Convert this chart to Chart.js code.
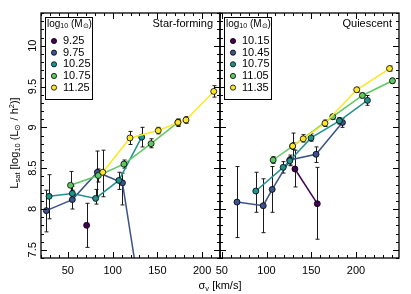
<!DOCTYPE html>
<html>
<head>
<meta charset="utf-8">
<script src="https://cdn.jsdelivr.net/npm/chart.js@4.4.1/dist/chart.umd.min.js"></script>
<style>
  html, body { margin: 0; padding: 0; background: #fff; }
  #wrap { position: relative; width: 411px; height: 294px; }
  canvas { position: absolute; left: 0; top: 0; }
</style>
</head>
<body>
<div id="wrap">
  <canvas id="sf" width="411" height="294"></canvas>
  <canvas id="qu" width="411" height="294"></canvas>
</div>
<script>
const FONT = '"Liberation Sans", Arial, sans-serif';
const viridis = ['#440154', '#3b528b', '#21918c', '#5ec962', '#fde725'];

const yTicks = [7.5, 8, 8.5, 9, 9.5, 10];
const xTicks = [50, 100, 150, 200];
const yRange = [7.4, 10.4];
const sfRange = [20, 220];
const quRange = [48, 248];

// Star-forming: log10 stellar mass bins
const sfMass = ['9.25', '9.75', '10.25', '10.75', '11.25'];
const sfSigma = [
  [71],
  [26, 55, 83, 111, 140],
  [29, 55, 81, 107, 132.5],
  [53, 84, 112.6, 143, 173],
  [89, 119.4, 151, 173, 182, 213]
];
const sfL = [
  [7.80],
  [7.98, 8.115, 8.45, 8.32, 6.3],
  [8.155, 8.19, 8.13, 8.35, 8.88],
  [8.29, 8.41, 8.55, 8.80, 9.06],
  [8.45, 8.87, 8.96, 9.06, 9.09, 9.44]
];
const sfLo = [
  [7.53],
  [7.72, 8.00, 8.15, 8.05, 6.3],
  [7.88, 8.10, 8.06, 8.24, 8.76],
  [8.12, 8.33, 8.50, 8.75, 9.02],
  [8.15, 8.79, 8.92, 9.01, 9.05, 9.37]
];
const sfHi = [
  [8.07],
  [8.23, 8.23, 8.71, 8.44, 6.3],
  [8.42, 8.28, 8.24, 8.45, 9.00],
  [8.46, 8.49, 8.60, 8.86, 9.10],
  [8.72, 8.95, 9.00, 9.10, 9.13, 9.51]
];

// Quiescent
const quMass = ['10.15', '10.45', '10.75', '11.05', '11.35'];
const quSigma = [
  [131.7, 156.7],
  [67, 96.3, 106.3, 126, 155.3, 184.8],
  [88, 118.6, 126, 149.7, 181.4, 212.7],
  [107.4, 129.2, 174, 207.1, 240.7],
  [129.2, 141, 165.3, 200.8, 237.4]
];
const quL = [
  [8.49, 8.065],
  [8.085, 8.04, 8.24, 8.60, 8.67, 9.06],
  [8.22, 8.51, 8.59, 8.87, 9.08, 9.33],
  [8.60, 8.77, 9.13, 9.39, 9.57],
  [8.77, 8.86, 9.05, 9.46, 9.72]
];
const quLo = [
  [8.27, 7.63],
  [7.65, 7.71, 7.96, 8.53, 8.57, 9.00],
  [7.96, 8.44, 8.54, 8.83, 9.04, 9.27],
  [8.56, 8.73, 9.10, 9.36, 9.54],
  [8.62, 8.82, 9.01, 9.43, 9.69]
];
const quHi = [
  [8.72, 8.51],
  [8.52, 8.37, 8.52, 8.66, 8.76, 9.11],
  [8.45, 8.58, 8.64, 8.92, 9.12, 9.39],
  [8.64, 8.81, 9.16, 9.42, 9.60],
  [8.93, 8.91, 9.09, 9.49, 9.75]
];

function richText(ctx, parts, x, y, align) {
  let w = 0;
  parts.forEach(p => { ctx.font = p[1] + 'px ' + FONT; w += ctx.measureText(p[0]).width; });
  let cx = align === 'center' ? x - w / 2 : (align === 'right' ? x - w : x);
  ctx.textAlign = 'left';
  ctx.textBaseline = 'middle';
  parts.forEach(p => {
    ctx.font = p[1] + 'px ' + FONT;
    ctx.fillText(p[0], cx, y + p[2]);
    cx += ctx.measureText(p[0]).width;
  });
}

function makeSets(masses, sig, L, lo, hi) {
  return masses.map((m, i) => ({
    label: m,
    data: sig[i].map((x, j) => ({ x: x, y: L[i][j], lo: lo[i][j], hi: hi[i][j] })),
    showLine: true,
    borderColor: viridis[i],
    backgroundColor: viridis[i],
    borderWidth: 1.5,
    pointRadius: 3,
    pointHoverRadius: 3,
    pointBorderColor: '#000',
    pointBorderWidth: 0.8,
    order: masses.length - 1 - i
  }));
}

const panelPlugin = {
  id: 'panel',
  beforeDatasetsDraw(chart) {
    // error bars
    const ctx = chart.ctx, a = chart.chartArea;
    const xs = chart.scales.x, ys = chart.scales.y;
    ctx.save();
    ctx.beginPath();
    ctx.rect(a.left, a.top, a.right - a.left, a.bottom - a.top);
    ctx.clip();
    ctx.strokeStyle = '#1a1a1a';
    ctx.lineWidth = 1;
    chart.data.datasets.forEach(ds => {
      ds.data.forEach(p => {
        if (p.hi - p.lo < 0.001) return;
        const px = Math.round(xs.getPixelForValue(p.x)) + 0.5;
        const y1 = ys.getPixelForValue(p.lo), y2 = ys.getPixelForValue(p.hi);
        ctx.beginPath();
        ctx.moveTo(px, y1); ctx.lineTo(px, y2);
        ctx.moveTo(px - 2, y1); ctx.lineTo(px + 2, y1);
        ctx.moveTo(px - 2, y2); ctx.lineTo(px + 2, y2);
        ctx.stroke();
      });
    });
    ctx.restore();
  },
  afterDraw(chart, args, o) {
    const ctx = chart.ctx, a = chart.chartArea;
    const xs = chart.scales.x, ys = chart.scales.y;
    ctx.save();
    ctx.strokeStyle = '#000';
    ctx.fillStyle = '#000';
    // minor / major ticks on all four sides
    ctx.lineWidth = 1;
    ctx.beginPath();
    for (let v = Math.ceil(xs.min / 10) * 10; v <= xs.max; v += 10) {
      const px = Math.round(xs.getPixelForValue(v)) + 0.5;
      const len = v % 50 === 0 ? 6 : 3;
      ctx.moveTo(px, a.bottom); ctx.lineTo(px, a.bottom - len);
      ctx.moveTo(px, a.top); ctx.lineTo(px, a.top + len);
    }
    for (let k = Math.ceil(ys.min * 10); k <= ys.max * 10; k++) {
      const py = Math.round(ys.getPixelForValue(k / 10)) + 0.5;
      const len = k % 5 === 0 ? 6 : 3;
      ctx.moveTo(a.left, py); ctx.lineTo(a.left + len, py);
      ctx.moveTo(a.right, py); ctx.lineTo(a.right - len, py);
    }
    ctx.stroke();
    // frame
    ctx.lineWidth = 1.3;
    ctx.strokeRect(a.left, a.top, a.right - a.left, a.bottom - a.top);

    // panel label
    ctx.font = '11px ' + FONT;
    ctx.textAlign = 'right';
    ctx.textBaseline = 'middle';
    ctx.fillText(o.name, a.right - 7, 24);

    // legend box
    const bx = o.legendX, by = 17, bw = 47, bh = 82;
    ctx.lineWidth = 1;
    ctx.fillStyle = '#fff';
    ctx.fillRect(bx, by, bw, bh);
    ctx.strokeRect(bx + 0.5, by + 0.5, bw, bh);
    ctx.fillStyle = '#000';
    richText(ctx, [['log', 10, 0], ['10', 7, 2.5], [' (M', 10, 0], ['\u2299', 7, 2.5], [')', 10, 0]], bx + 2, 24, 'left');
    o.masses.forEach((m, i) => {
      const iy = 41 + i * 11.65;
      ctx.beginPath();
      ctx.arc(bx + 9, iy, 2.6, 0, Math.PI * 2);
      ctx.fillStyle = viridis[i];
      ctx.fill();
      ctx.lineWidth = 0.8;
      ctx.strokeStyle = '#000';
      ctx.stroke();
      ctx.fillStyle = '#000';
      ctx.font = '11px ' + FONT;
      ctx.textAlign = 'left';
      ctx.textBaseline = 'middle';
      ctx.fillText(m, bx + 18, iy);
    });

    if (o.axisTitles) {
      ctx.fillStyle = '#000';
      richText(ctx, [['\u03c3', 11, 0], ['v', 7.5, 2.5], [' [km/s]', 11, 0]], 220, 286, 'center');
      ctx.save();
      ctx.translate(15, 143);
      ctx.rotate(-Math.PI / 2);
      richText(ctx, [['L', 11, 0], ['sat', 7.5, 2.5], [' [log', 11, 0], ['10', 7.5, 2.5], [' (L', 11, 0],
        ['\u2299', 7.5, 2.5], [' / h', 11, 0], ['2', 7.5, -3.5], [')]', 11, 0]], 0, 0, 'center');
      ctx.restore();
    }
    ctx.restore();
  }
};

function makeChart(id, masses, sig, L, lo, hi, xRange, padding, name, legendX, showY) {
  return new Chart(document.getElementById(id), {
    type: 'scatter',
    data: { datasets: makeSets(masses, sig, L, lo, hi) },
    options: {
      responsive: false,
      animation: false,
      devicePixelRatio: 1,
      layout: { padding: padding },
      plugins: {
        legend: { display: false },
        tooltip: { enabled: false },
        panel: { name: name, masses: masses, legendX: legendX, axisTitles: showY }
      },
      scales: {
        x: {
          type: 'linear', min: xRange[0], max: xRange[1],
          afterBuildTicks: s => { s.ticks = xTicks.map(v => ({ value: v })); },
          afterFit: s => { s.height = 36; },
          grid: { display: false, drawTicks: false },
          border: { display: false },
          ticks: { color: '#000', font: { family: FONT, size: 11 }, padding: 6, maxRotation: 0 }
        },
        y: {
          type: 'linear', min: yRange[0], max: yRange[1],
          display: showY,
          afterBuildTicks: s => { s.ticks = yTicks.map(v => ({ value: v })); },
          afterFit: s => { s.width = showY ? 41 : 0; },
          grid: { display: false, drawTicks: false },
          border: { display: false },
          ticks: {
            color: '#000', font: { family: FONT, size: 11 }, padding: 0,
            minRotation: 90, maxRotation: 90, crossAlign: 'center',
            callback: v => String(v)
          }
        }
      }
    },
    plugins: [panelPlugin]
  });
}

makeChart('sf', sfMass, sfSigma, sfL, sfLo, sfHi, sfRange,
  { left: 0, right: 191, top: 13, bottom: 0 }, 'Star-forming', 45, true);
makeChart('qu', quMass, quSigma, quL, quLo, quHi, quRange,
  { left: 220, right: 12, top: 13, bottom: 0 }, 'Quiescent', 224, false);
</script>
</body>
</html>
